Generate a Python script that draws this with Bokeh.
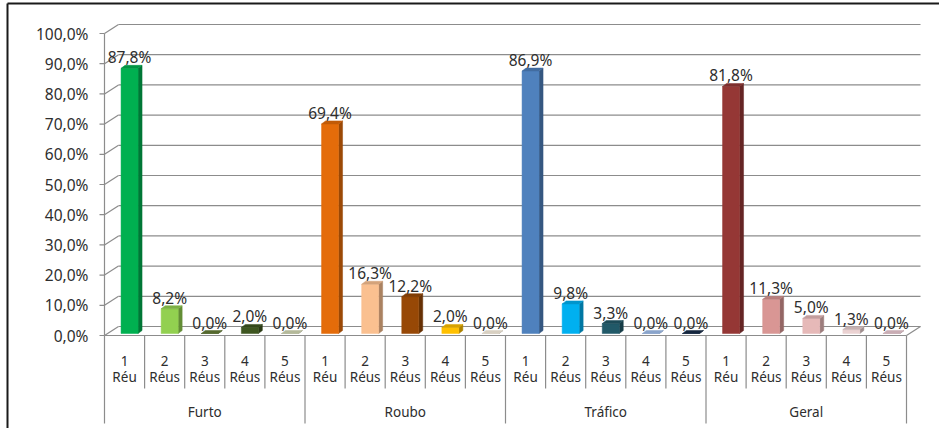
from bokeh.plotting import figure
from bokeh.models import Range1d
from bokeh.core.properties import value
from bokeh.embed import file_html
from bokeh.resources import INLINE

# --- data -------------------------------------------------------------
groups = ["Furto", "Roubo", "Tráfico", "Geral"]
defendants = ["1 Réu", "2 Réus", "3 Réus", "4 Réus", "5 Réus"]
furto = [87.8, 8.2, 0.0, 2.0, 0.0]
roubo = [69.4, 16.3, 12.2, 2.0, 0.0]
trafico = [86.9, 9.8, 3.3, 0.0, 0.0]
geral = [81.8, 11.3, 5.0, 1.3, 0.0]
y_ticks = [0, 10, 20, 30, 40, 50, 60, 70, 80, 90, 100]

# one colour per column, in the same order as the values
bar_colors = [
    "#00B050", "#92D050", "#55692E", "#3E5620", "#B4B99A",
    "#E46C0A", "#FAC090", "#974806", "#FFC000", "#D8D0C2",
    "#4F81BD", "#00B0F0", "#215968", "#8AA4CB", "#14263E",
    "#953735", "#D99694", "#E6B9B8", "#EBD2D2", "#C9ADB4",
]

values = furto + roubo + trafico + geral


def pct(v):
    return f"{v:.1f}".replace(".", ",") + "%"


# --- pixel geometry -------------------------------------------------------
W, H = 939, 428
PX = 40.1          # pixels per category
PY = 3.02          # pixels per percentage point
X0, Y0 = 104, 335  # pixel position of the category axis origin


def xd(px):
    return (px - X0) / PX


def yd(py):
    return (Y0 - py) / PY


DX, DY = 14 / PX, 9 / PY          # depth of the chart box
SH, B0 = 5 / PX, 2 / PY           # offset of the column's front face
HW = 8.5 / PX                     # half width of a column's front face
SDX, SDY = 4 / PX, 3 / PY         # depth of each column


def shade(hexcol, f):
    h = hexcol.lstrip("#")
    r, g, b = (int(h[i:i + 2], 16) for i in (0, 2, 4))
    return "#%02x%02x%02x" % (int(r * f), int(g * f), int(b * f))


p = figure(width=W, height=H, output_backend="svg", toolbar_location=None,
           x_range=Range1d(xd(0), xd(W)), y_range=Range1d(yd(H), yd(0)),
           x_axis_location=None, y_axis_location=None, min_border=0)
p.grid.visible = False
p.outline_line_color = None
p.background_fill_color = "white"
p.border_fill_color = "white"

grid_col = "#8c8c8c"
txt_col = "#2e2e2e"
font = value("Noto Sans")
n = len(values)

# back wall gridlines and side-wall diagonals
p.segment(x0=[DX] * len(y_ticks), y0=[t + DY for t in y_ticks],
          x1=[n + DX] * len(y_ticks), y1=[t + DY for t in y_ticks],
          line_color=grid_col, line_width=1.2)
p.segment(x0=[0] * len(y_ticks), y0=y_ticks,
          x1=[DX] * len(y_ticks), y1=[t + DY for t in y_ticks],
          line_color=grid_col, line_width=1.2)

# floor edges
p.segment(x0=[0, n], y0=[0, 0], x1=[n, n + DX], y1=[0, DY],
          line_color=grid_col, line_width=1.2)

# value axis
p.segment(x0=[0], y0=[0], x1=[0], y1=[100], line_color=grid_col, line_width=1.2)
p.segment(x0=[xd(X0 - 5)] * len(y_ticks), y0=y_ticks,
          x1=[0] * len(y_ticks), y1=y_ticks, line_color=grid_col, line_width=1.2)
p.text(x=[xd(88)] * len(y_ticks), y=y_ticks, text=[pct(t) for t in y_ticks],
       text_align="right", text_baseline="middle", text_font=font,
       text_font_size="15.5px", text_color=txt_col)

# columns
lefts = [i + 0.5 + SH - HW for i in range(n)]
rights = [i + 0.5 + SH + HW for i in range(n)]
tops = [B0 + v for v in values]

side_xs = [[r, r + SDX, r + SDX, r] for r in rights]
side_ys = [[B0, B0 + SDY, t + SDY, t] for t in tops]
top_xs = [[l, r, r + SDX, l + SDX] for l, r in zip(lefts, rights)]
top_ys = [[t, t, t + SDY, t + SDY] for t in tops]

p.patches(side_xs, side_ys, fill_color=[shade(c, 0.68) for c in bar_colors],
          line_color=[shade(c, 0.68) for c in bar_colors], line_width=0.5)
p.quad(left=lefts, right=rights, bottom=[B0] * n, top=tops,
       fill_color=bar_colors, line_color=bar_colors, line_width=0.5)
p.patches(top_xs, top_ys, fill_color=[shade(c, 0.85) if v > 0 else c
                                      for c, v in zip(bar_colors, values)],
          line_color=[shade(c, 0.85) if v > 0 else c
                      for c, v in zip(bar_colors, values)], line_width=0.5)

# data labels
p.text(x=[i + 0.5 + SH for i in range(n)], y=[t + 11 / PY for t in tops],
       text=[pct(v) for v in values], text_align="center",
       text_baseline="alphabetic", text_font=font, text_font_size="15.5px",
       text_color=txt_col)

# category axis: separators and two-level labels
seps = list(range(n + 1))
p.segment(x0=seps, y0=[0] * len(seps), x1=seps,
          y1=[yd(423) if k % 5 == 0 else yd(388) for k in seps],
          line_color=grid_col, line_width=1.2)

sub_labels = defendants * len(groups)
p.text(x=[i + 0.5 for i in range(n)], y=[yd(360)] * n,
       text=[s.split(" ")[0] for s in sub_labels], text_align="center",
       text_baseline="middle", text_font=font, text_font_size="13.5px",
       text_color=txt_col)
p.text(x=[i + 0.5 for i in range(n)], y=[yd(376)] * n,
       text=[s.split(" ")[1] for s in sub_labels], text_align="center",
       text_baseline="middle", text_font=font, text_font_size="13.5px",
       text_color=txt_col)
p.text(x=[5 * g + 2.5 for g in range(len(groups))], y=[yd(411.5)] * len(groups),
       text=groups, text_align="center", text_baseline="middle",
       text_font=font, text_font_size="13.5px", text_color=txt_col)

# chart area border (left and top edges)
p.segment(x0=[xd(7), xd(7)], y0=[yd(3), yd(3)], x1=[xd(7), xd(W)],
          y1=[yd(H), yd(3)], line_color="#1a1a1a", line_width=2)

open("out.html", "w").write(file_html(p, INLINE))
